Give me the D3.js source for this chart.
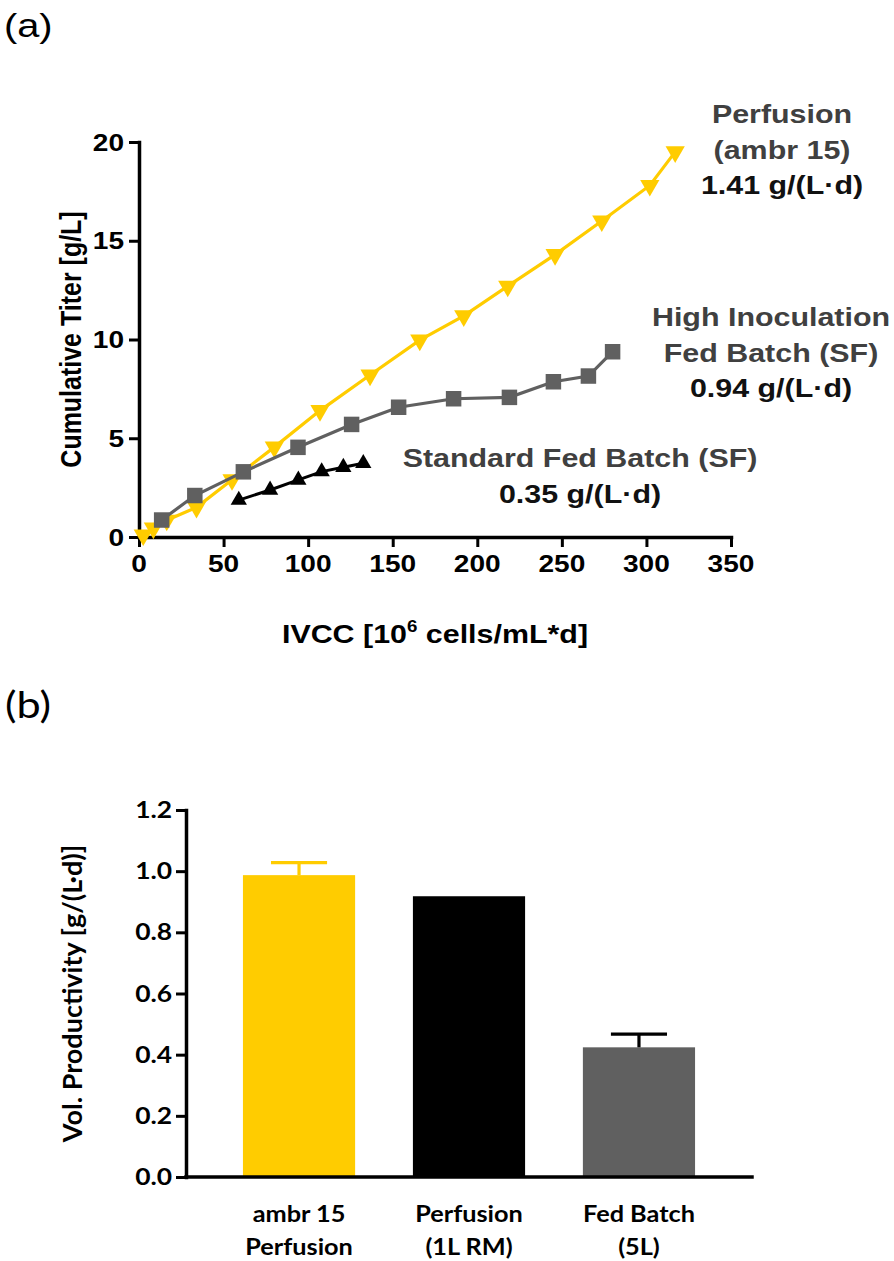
<!DOCTYPE html>
<html>
<head>
<meta charset="utf-8">
<script src="https://cdn.jsdelivr.net/npm/d3@7"></script>
<style>
  html, body { margin: 0; padding: 0; background: #fff; }
  svg { display: block; }
</style>
</head>
<body>
<svg id="chart" width="894" height="1261"></svg>
<script>
// ---------------- DATA ----------------
// Panel (a): cumulative titer vs IVCC
const perfusionX = [2.5, 8.5, 16.4, 34, 55, 80, 107, 136.6, 166, 192, 218, 246, 273.6, 302, 317];
const perfusionY = [0.1, 0.45, 0.85, 1.5, 2.9, 4.55, 6.4, 8.2, 9.97, 11.2, 12.7, 14.3, 16.0, 17.8, 19.5];
const hifbX = [13.4, 33, 61.7, 94, 125.7, 153.5, 186, 219, 245, 265.7, 280];
const hifbY = [0.86, 2.1, 3.3, 4.54, 5.7, 6.57, 7.0, 7.07, 7.86, 8.15, 9.38];
const sfbX = [59, 77.5, 94.2, 108, 120.8, 132.6];
const sfbY = [1.87, 2.38, 2.89, 3.31, 3.53, 3.73];
const xTicksA = [0, 50, 100, 150, 200, 250, 300, 350];
const yTicksA = [0, 5, 10, 15, 20];
const annotations = [
  { lines: ["Perfusion", "(ambr 15)", "1.41 g/(L·d)"] },
  { lines: ["High Inoculation", "Fed Batch (SF)", "0.94 g/(L·d)"] },
  { lines: ["Standard Fed Batch (SF)", "0.35 g/(L·d)"] }
];
// Panel (b): volumetric productivity
const barCategories = [["ambr 15", "Perfusion"], ["Perfusion", "(1L RM)"], ["Fed Batch", "(5L)"]];
const barValues = [0.987, 0.918, 0.424];
const barErrors = [0.041, 0, 0.043];
const yTicksB = [0, 0.2, 0.4, 0.6, 0.8, 1.0, 1.2];

// ---------------- STYLE ----------------
const YELLOW = "#FFCC00", GRAY = "#606060", BLACK = "#000000";
const SX = 1.17; // horizontal stretch of the source figure's text
const fontA = "'Liberation Sans', Arial, sans-serif";
const fontB = "Lato, 'Open Sans', sans-serif";

const svg = d3.select("#chart");

function txt(g, x, y, s, o = {}) {
  const t = g.append("text")
    .attr("transform", `translate(${x},${y}) scale(${o.sx ?? SX},1)` + (o.rot ? " rotate(-90)" : ""))
    .attr("text-anchor", o.anchor || "middle")
    .style("font-family", o.font || fontA)
    .style("font-weight", o.weight || "bold")
    .style("font-size", (o.size || 24) + "px")
    .attr("fill", o.fill || "#000");
  t.text(s);
  return t;
}

// ---------------- PANEL (a) ----------------
const gA = svg.append("g");
const xA = d3.scaleLinear().domain([0, 350]).range([139, 731]);
const yA = d3.scaleLinear().domain([0, 20]).range([537, 142]);

txt(gA, 4, 37, "(a)", { anchor: "start", weight: "normal", size: 34 });

const axXA = gA.append("g").attr("transform", `translate(0,${yA(0)})`)
  .call(d3.axisBottom(xA).tickValues(xTicksA).tickSize(10).tickSizeOuter(0).tickFormat(""));
const axYA = gA.append("g").attr("transform", `translate(${xA(0)},0)`)
  .call(d3.axisLeft(yA).tickValues(yTicksA).tickSize(10).tickSizeOuter(0).tickFormat(""));
[axXA, axYA].forEach(a => {
  a.select(".domain").attr("stroke", "#000").attr("stroke-width", 3.5).attr("stroke-linecap", "square");
  a.selectAll(".tick line").attr("stroke", "#000").attr("stroke-width", 3);
});
xTicksA.forEach(v => txt(gA, xA(v), 572, String(v), { size: 24 }));
yTicksA.forEach(v => txt(gA, 124, yA(v) + 8.5, String(v), { size: 24, anchor: "end" }));

txt(gA, 81, (yA(0) + yA(20)) / 2, "Cumulative Titer [g/L]", { size: 25, rot: true });
const xt = txt(gA, (xA(0) + xA(350)) / 2, 643, "", { size: 26 });
xt.append("tspan").text("IVCC [10");
xt.append("tspan").attr("dy", -11).style("font-size", "16px").text("6");
xt.append("tspan").attr("dy", 11).text(" cells/mL*d]");

const lineGen = d3.line().x(d => xA(d[0])).y(d => yA(d[1]));
function series(xs, ys, color, symbol, size, rotate, width) {
  const pts = xs.map((x, i) => [x, ys[i]]);
  gA.append("path").datum(pts).attr("d", lineGen)
    .attr("fill", "none").attr("stroke", color).attr("stroke-width", width);
  gA.append("g").selectAll("path").data(pts).join("path")
    .attr("d", d3.symbol().type(symbol).size(size))
    .attr("transform", d => `translate(${xA(d[0])},${yA(d[1])}) rotate(${rotate})`)
    .attr("fill", color);
}
series(perfusionX, perfusionY, YELLOW, d3.symbolTriangle, 160, 180, 3.2);
series(hifbX, hifbY, GRAY, d3.symbolSquare, 240, 0, 3.2);
series(sfbX, sfbY, BLACK, d3.symbolTriangle, 115, 0, 3);

// annotations
const annPos = [
  { x: 782, y: 123 }, { x: 771, y: 326 }, { x: 580, y: 467 }
];
annotations.forEach((a, i) => {
  a.lines.forEach((s, j) => {
    const isRate = j === a.lines.length - 1;
    txt(gA, annPos[i].x, annPos[i].y + j * 35.5, s, { size: 26, fill: isRate ? "#111" : "#404040" });
  });
});

// ---------------- PANEL (b) ----------------
const gB = svg.append("g");
const xB = d3.scaleBand().domain(d3.range(barValues.length)).range([186, 752]).paddingInner(0.34).paddingOuter(0.335);
const yB = d3.scaleLinear().domain([0, 1.2]).range([1177, 810]);
const barColors = [YELLOW, BLACK, GRAY];
const errColors = [YELLOW, BLACK, BLACK];

txt(gB, 5, 718, "(b)", { anchor: "start", weight: "normal", size: 36, font: fontB, sx: 1.2 });

gB.append("g").selectAll("rect").data(barValues).join("rect")
  .attr("x", (d, i) => xB(i)).attr("width", xB.bandwidth())
  .attr("y", d => yB(d)).attr("height", d => yB(0) - yB(d))
  .attr("fill", (d, i) => barColors[i]);

barValues.forEach((v, i) => {
  if (!barErrors[i]) return;
  const cx = xB(i) + xB.bandwidth() / 2;
  const g = gB.append("g").attr("stroke", errColors[i]).attr("stroke-width", 3.2);
  g.append("line").attr("x1", cx).attr("x2", cx).attr("y1", yB(v)).attr("y2", yB(v + barErrors[i]));
  g.append("line").attr("x1", cx - xB.bandwidth() / 4).attr("x2", cx + xB.bandwidth() / 4)
    .attr("y1", yB(v + barErrors[i])).attr("y2", yB(v + barErrors[i]));
});

const axXB = gB.append("g").attr("transform", `translate(0,${yB(0)})`)
  .call(d3.axisBottom(xB).tickSize(0).tickSizeOuter(0).tickFormat(""));
axXB.select(".domain").attr("d", `M186,0H752`);
const axYB = gB.append("g").attr("transform", `translate(186,0)`)
  .call(d3.axisLeft(yB).tickValues(yTicksB).tickSize(10).tickSizeOuter(0).tickFormat(""));
[axXB, axYB].forEach(a => {
  a.select(".domain").attr("stroke", "#000").attr("stroke-width", 3.5).attr("stroke-linecap", "square");
  a.selectAll(".tick line").attr("stroke", "#000").attr("stroke-width", 3);
});
yTicksB.forEach(v => txt(gB, 172, yB(v) + 8, d3.format(".1f")(v), { size: 22, anchor: "end", font: fontB, sx: 1.2 }));
barCategories.forEach((lines, i) => {
  const cx = xB(i) + xB.bandwidth() / 2;
  lines.forEach((s, j) => txt(gB, cx, 1222 + j * 33, s, { size: 23, font: fontB, sx: 1.1 }));
});
txt(gB, 82, (yB(0) + yB(1.2)) / 2, "Vol. Productivity [g/(L·d)]", { size: 27, rot: true, font: fontB, sx: 1.0 });
</script>
</body>
</html>
